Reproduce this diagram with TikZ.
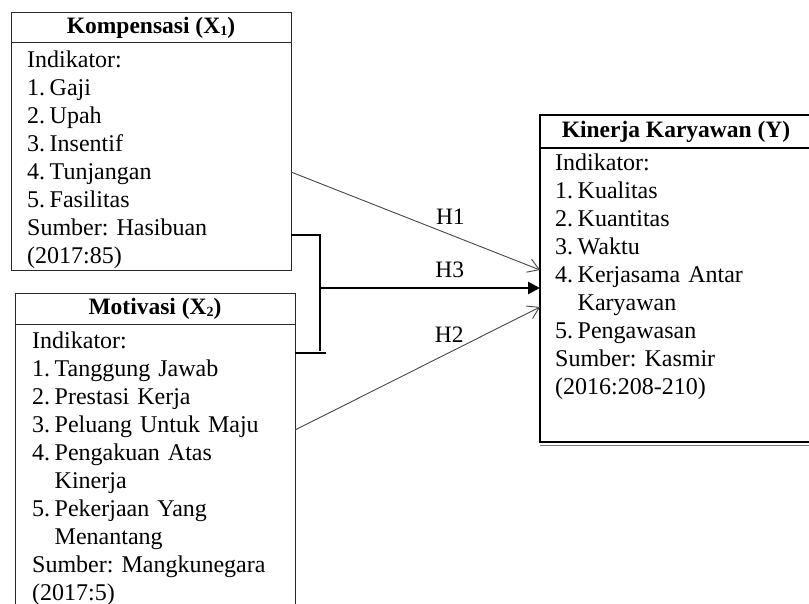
\documentclass[tikz,border=0pt]{standalone}
\usepackage{fontspec}
\setmainfont{Liberation Serif}
\usetikzlibrary{arrows.meta, positioning}
\usepackage{xcolor}
\frenchspacing
\definecolor{linegray}{RGB}{70, 70, 70}
\definecolor{framegray}{RGB}{40, 40, 40}
\newcommand{\itm}[2]{\makebox[22.5pt][l]{#1.}#2}
\newcommand{\cnt}[1]{\hspace*{22.5pt}#1}
\newcommand{\sub}[1]{\raisebox{-2pt}{\fontsize{14}{14}\selectfont #1}}
\tikzset{
    % Variable header boxes
    var head/.style={
        rectangle, draw=framegray, line width=1pt, outer sep=0pt, inner sep=0pt,
        minimum width=280pt, minimum height=30pt,
        font=\fontsize{23.5}{28}\selectfont\bfseries
    },
    % Variable body frames
    var body/.style={
        rectangle, draw=framegray, line width=1pt, outer sep=0pt, inner sep=0pt,
        minimum width=280pt
    },
    % Dependent variable (heavier frame)
    dep frame/.style={
        draw=black, line width=1.8pt, minimum width=290pt
    },
    % Indicator lists
    var text/.style={
        anchor=north west, inner sep=0pt, text width=265pt, align=left,
        font=\fontsize{24}{28}\selectfont
    },
    % Partial effect arrows
    thin arrow/.style={
        -{Straight Barb[length=11pt, width=14pt]}, line width=0.9pt, color=linegray
    },
    % Simultaneous effect arrow
    thick arrow/.style={
        -{Triangle[length=12pt, width=12pt]}, line width=2.6pt, color=black
    },
    % Bracket joining X1 and X2
    bracket/.style={
        line width=2.6pt, color=black
    },
    % Hypothesis labels
    hyp/.style={
        font=\fontsize{23.5}{28}\selectfont, inner sep=0pt, text=black
    }
}

\begin{document}
\begin{tikzpicture}[x=1pt, y=-1pt]

    \clip (0,0) rectangle (809,604);

    % ======== KOMPENSASI (X1) ========
    \node[var head, anchor=north west] (x1h) at (11,13) {Kompensasi (X\sub{1})};
    \node[var body, minimum height=228pt, below=0pt of x1h] (x1b) {};
    \node[var text] (x1t) at ([xshift=16pt, yshift=-7.5pt]x1b.north west) {Indikator:\\
        \itm{1}{Gaji}\\
        \itm{2}{Upah}\\
        \itm{3}{Insentif}\\
        \itm{4}{Tunjangan}\\
        \itm{5}{Fasilitas}\\
        Sumber: Hasibuan\\
        (2017:85)};

    % ======== MOTIVASI (X2) ========
    \node[var head, anchor=north west] (x2h) at (15,294) {Motivasi (X\sub{2})};
    \node[var body, minimum height=310pt, below=0pt of x2h] (x2b) {};
    \node[var text] (x2t) at ([xshift=17pt, yshift=-7.5pt]x2b.north west) {Indikator:\\
        \itm{1}{Tanggung Jawab}\\
        \itm{2}{Prestasi Kerja}\\
        \itm{3}{Peluang Untuk Maju}\\
        \itm{4}{Pengakuan Atas}\\
        \cnt{Kinerja}\\
        \itm{5}{Pekerjaan Yang}\\
        \cnt{Menantang}\\
        Sumber: Mangkunegara\\
        (2017:5)};

    % ======== KINERJA KARYAWAN (Y) ========
    \node[var head, dep frame, minimum height=33pt, anchor=north west] (yh) at (540,115) {\hspace*{-18pt}Kinerja Karyawan (Y)};
    \node[var body, dep frame, minimum height=294pt, below=0pt of yh] (yb) {};
    \node[var text, text width=255pt] (yt) at ([xshift=15pt, yshift=-6pt]yb.north west) {Indikator:\\
        \itm{1}{Kualitas}\\
        \itm{2}{Kuantitas}\\
        \itm{3}{Waktu}\\
        \itm{4}{Kerjasama Antar}\\
        \cnt{Karyawan}\\
        \itm{5}{Pengawasan}\\
        Sumber: Kasmir\\
        (2016:208-210)};
    \draw[line width=0.8pt, gray] ([yshift=-3.5pt]yb.south west) -- ([yshift=-3.5pt]yb.south east);

    % H1 and H2: partial effects
    \draw[thin arrow] ([yshift=-15pt]x1b.east) -- node[hyp, pos=0.64, above=10pt] (h1) {H1} ([yshift=25pt]yb.west);
    \draw[thin arrow] ([yshift=49pt]x2b.east) -- node[hyp, pos=0.63, above=10pt] (h2) {H2} ([yshift=-12pt]yb.west);

    % H3: simultaneous effect
    \coordinate (jt) at (320,235);
    \coordinate (jv) at (320,351);
    \coordinate (jb) at (326,353);
    \coordinate (h3e) at ([yshift=7pt]yb.west);
    \draw[bracket] (x1b.east |- jt) -- (jt) -- (jv);
    \draw[bracket] (x2b.east |- jb) -- (jb);
    \draw[thick arrow] (jt |- h3e) -- node[hyp, pos=0.59, above=9pt] (h3) {H3} (h3e);

\end{tikzpicture}
\end{document}
